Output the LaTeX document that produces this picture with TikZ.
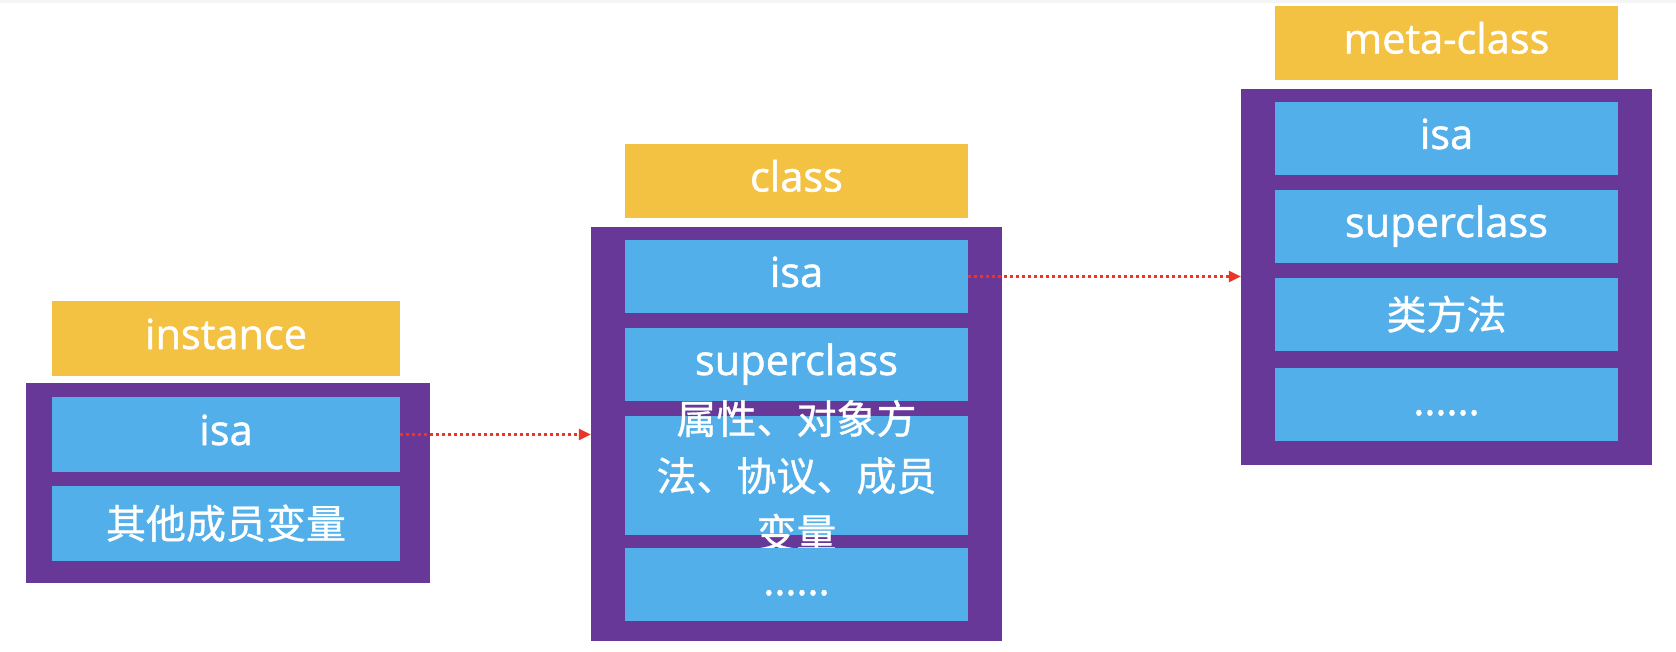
\documentclass[tikz,border=0pt]{standalone}
\usepackage{fontspec}
\setmainfont{Open Sans}[FakeBold=1.2]
\newfontfamily\cjk{Noto Sans CJK SC}[FakeBold=0.8]
\usetikzlibrary{arrows.meta}
\definecolor{hdr}{RGB}{244,194,66}
\definecolor{purp}{RGB}{103,56,151}
\definecolor{fld}{RGB}{83,175,233}
\definecolor{arr}{RGB}{234,54,38}
\tikzset{
  big/.style={font=\fontsize{41.5pt}{57pt}\selectfont, text=white},
  hdrbox/.style={big, fill=hdr, inner sep=0pt, minimum width=#1, minimum height=74pt, text height=30pt, text depth=9pt},
  purpbox/.style={fill=purp, inner sep=0pt},
  fldbox/.style={big, fill=fld, inner sep=0pt, minimum width=#1, minimum height=73pt, text height=30pt, text depth=9pt},
  cjkfld/.style={fldbox=#1, font=\fontsize{40pt}{57pt}\selectfont\cjk, text height=34pt, text depth=4pt},
  ptr/.style={draw=arr, line width=2.6pt, dash pattern=on 3pt off 3pt, -{Triangle[length=12pt,width=11pt]}},
}
\begin{document}
\begin{tikzpicture}[x=1pt,y=-1pt]
\useasboundingbox (0,0) rectangle (1676,652);
\fill[black!4] (0,0) rectangle (1676,3);
% instance
\node[hdrbox=348pt] (ihdr) at (226,338.5) {instance};
\node[purpbox, minimum width=404pt, minimum height=200pt] (ibox) at (228,483) {};
\node[fldbox=348pt, minimum height=75pt] (iisa) at (226,434.5) {isa};
\node[cjkfld=348pt, minimum height=75pt] (iother) at (226,523.5) {其他成员变量};
% class
\node[hdrbox=343pt] (chdr) at (796.5,181) {class};
\node[purpbox, minimum width=411pt, minimum height=414pt] (cbox) at (796.5,434) {};
\node[fldbox=343pt] (cisa) at (796.5,276.5) {isa};
\node[fldbox=343pt] (csup) at (796.5,364.5) {superclass};
\node[fldbox=343pt, minimum height=119pt] (cmeth) at (796.5,475.5) {};
\node[big, font=\fontsize{40pt}{57pt}\selectfont\cjk, align=center, inner sep=0pt] (cmethtext) at (cmeth.center) {属性、对象方\\法、协议、成员\\变量};
\node[fldbox=343pt] (cdots) at (796.5,584.5) {......};
% meta-class
\node[hdrbox=343pt] (mhdr) at (1446.5,43) {meta-class};
\node[purpbox, minimum width=411pt, minimum height=376pt] (mbox) at (1446.5,277) {};
\node[fldbox=343pt] (misa) at (1446.5,138.5) {isa};
\node[fldbox=343pt] (msup) at (1446.5,226.5) {superclass};
\node[cjkfld=343pt] (mmeth) at (1446.5,314.5) {类方法};
\node[fldbox=343pt] (mdots) at (1446.5,404.5) {......};
% pointers
\draw[ptr] (iisa.east) -- (iisa.east -| cbox.west);
\draw[ptr] (cisa.east) -- (cisa.east -| mbox.west);
\end{tikzpicture}
\end{document}
